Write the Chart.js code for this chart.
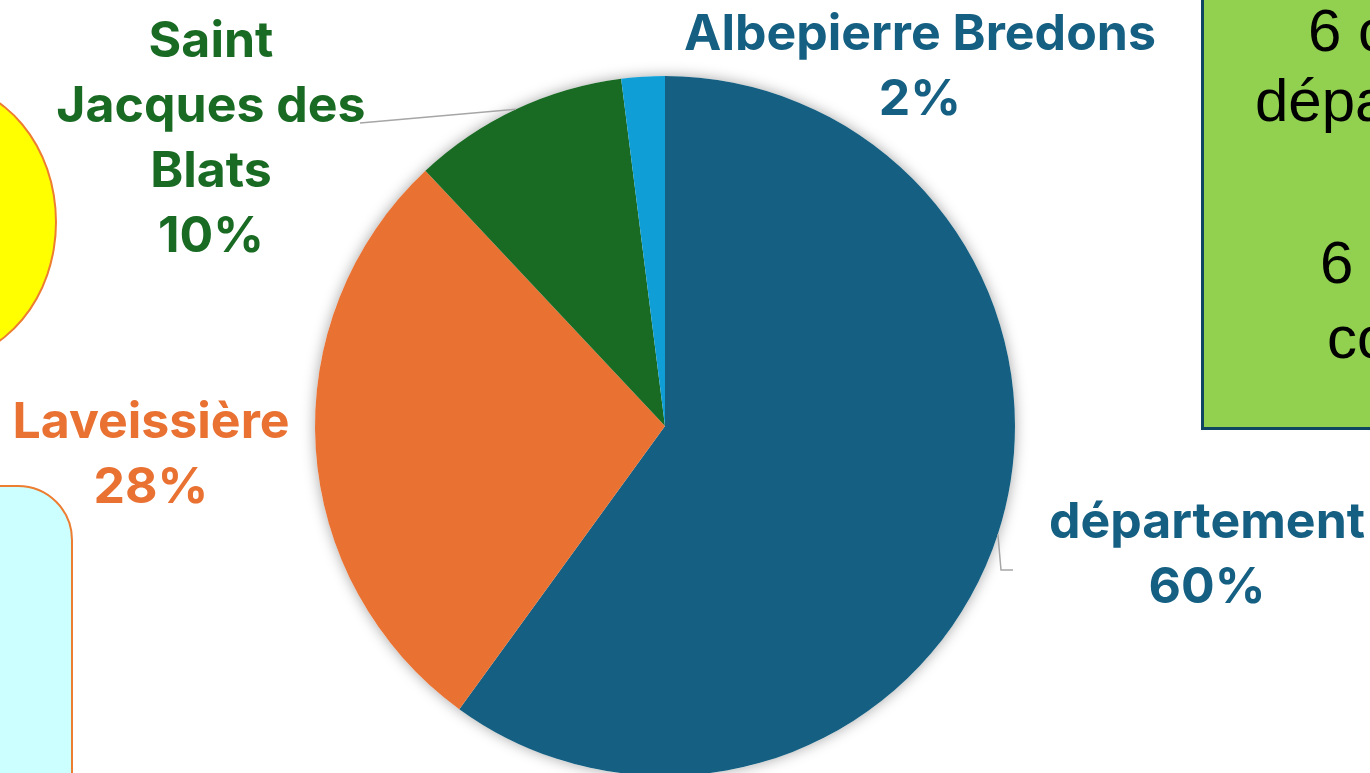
<!DOCTYPE html>
<html>
<head>
<meta charset="utf-8">
<script src="https://cdn.jsdelivr.net/npm/chart.js@4"></script>
<style>
    html, body { margin: 0; padding: 0; background: #fff; }
    body { width: 1370px; height: 773px; overflow: hidden; position: relative; }
    #wrap { position: absolute; left: 0; top: 0; width: 1370px; height: 852px; }
    .lbl { position: absolute; font-family: Inter, "Open Sans", sans-serif; font-weight: 700;
           font-size: 50px; line-height: 65px; text-align: center; white-space: nowrap;
           transform: translateX(-50%); }
    .box { position: absolute; left: 1201px; top: -10px; width: 300px; height: 434px;
           background: #92d050; border: 3px solid #0e4561; }
    .boxline { position: absolute; font-family: "Liberation Sans", Arial, sans-serif;
               font-size: 60px; color: #000; white-space: nowrap; line-height: 60px; }
    .sun { position: absolute; left: -175px; top: 83px; width: 228px; height: 274px;
           border-radius: 50%; background: #ffff00; border: 2px solid #ed7d31; }
    .note { position: absolute; left: -200px; top: 485px; width: 269px; height: 400px;
            border-radius: 55px; background: #ccffff; border: 2px solid #ed7d31; }
</style>
</head>
<body>
<div class="sun"></div>
<div class="note"></div>
<div class="box">
    <div class="boxline" style="left:104px; top:8px;">6 c</div>
    <div class="boxline" style="left:51px; top:78px;">dépa</div>
    <div class="boxline" style="left:116px; top:240px;">6 c</div>
    <div class="boxline" style="left:123px; top:315px;">co</div>
</div>
<div id="wrap"><canvas id="pie" width="1370" height="852"></canvas></div>
<div class="lbl" style="left:920px; top:0px; color:#156082;">Albepierre Bredons<br>2%</div>
<div class="lbl" style="left:211px; top:7px; color:#196b24;">Saint<br>Jacques des<br>Blats<br>10%</div>
<div class="lbl" style="left:151px; top:388px; color:#e97132;">Laveissière<br>28%</div>
<div class="lbl" style="left:1207px; top:488px; color:#156082;">département<br>60%</div>
<script>
const labels = ['département', 'Laveissière', 'Saint Jacques des Blats', 'Albepierre Bredons'];
const shares = [60, 28, 10, 2];
const colors = ['#156082', '#e97132', '#196b24', '#0f9ed5'];

// where each leader line ends (label side), null = no leader line
const leaderEnds = [
    [[1001, 570], [1013, 570]],
    null,
    [[360, 123]],
    null
];

const pieShadow = {
    id: 'pieShadow',
    beforeDatasetsDraw(chart) {
        const arc = chart.getDatasetMeta(0).data[0];
        if (!arc) return;
        const ctx = chart.ctx;
        ctx.save();
        ctx.shadowColor = 'rgba(0,0,0,0.35)';
        ctx.shadowBlur = 14;
        ctx.fillStyle = '#ffffff';
        ctx.beginPath();
        ctx.arc(arc.x, arc.y, arc.outerRadius, 0, Math.PI * 2);
        ctx.fill();
        ctx.restore();
    }
};

const leaders = {
    id: 'leaders',
    afterDatasetsDraw(chart) {
        const ctx = chart.ctx;
        const arcs = chart.getDatasetMeta(0).data;
        ctx.save();
        ctx.strokeStyle = '#a6a6a6';
        ctx.lineWidth = 1.5;
        arcs.forEach((arc, i) => {
            const pts = leaderEnds[i];
            if (!pts) return;
            const mid = (arc.startAngle + arc.endAngle) / 2;
            ctx.beginPath();
            ctx.moveTo(arc.x + Math.cos(mid) * arc.outerRadius, arc.y + Math.sin(mid) * arc.outerRadius);
            pts.forEach(p => ctx.lineTo(p[0], p[1]));
            ctx.stroke();
        });
        ctx.restore();
    }
};

new Chart(document.getElementById('pie'), {
    type: 'pie',
    data: {
        labels,
        datasets: [{
            data: shares,
            backgroundColor: colors,
            borderWidth: 0,
            hoverOffset: 0
        }]
    },
    options: {
        responsive: false,
        animation: false,
        layout: { padding: { top: 76, left: 315, right: 355, bottom: 76 } },
        plugins: {
            legend: { display: false },
            tooltip: { enabled: false }
        }
    },
    plugins: [pieShadow, leaders]
});
</script>
</body>
</html>
